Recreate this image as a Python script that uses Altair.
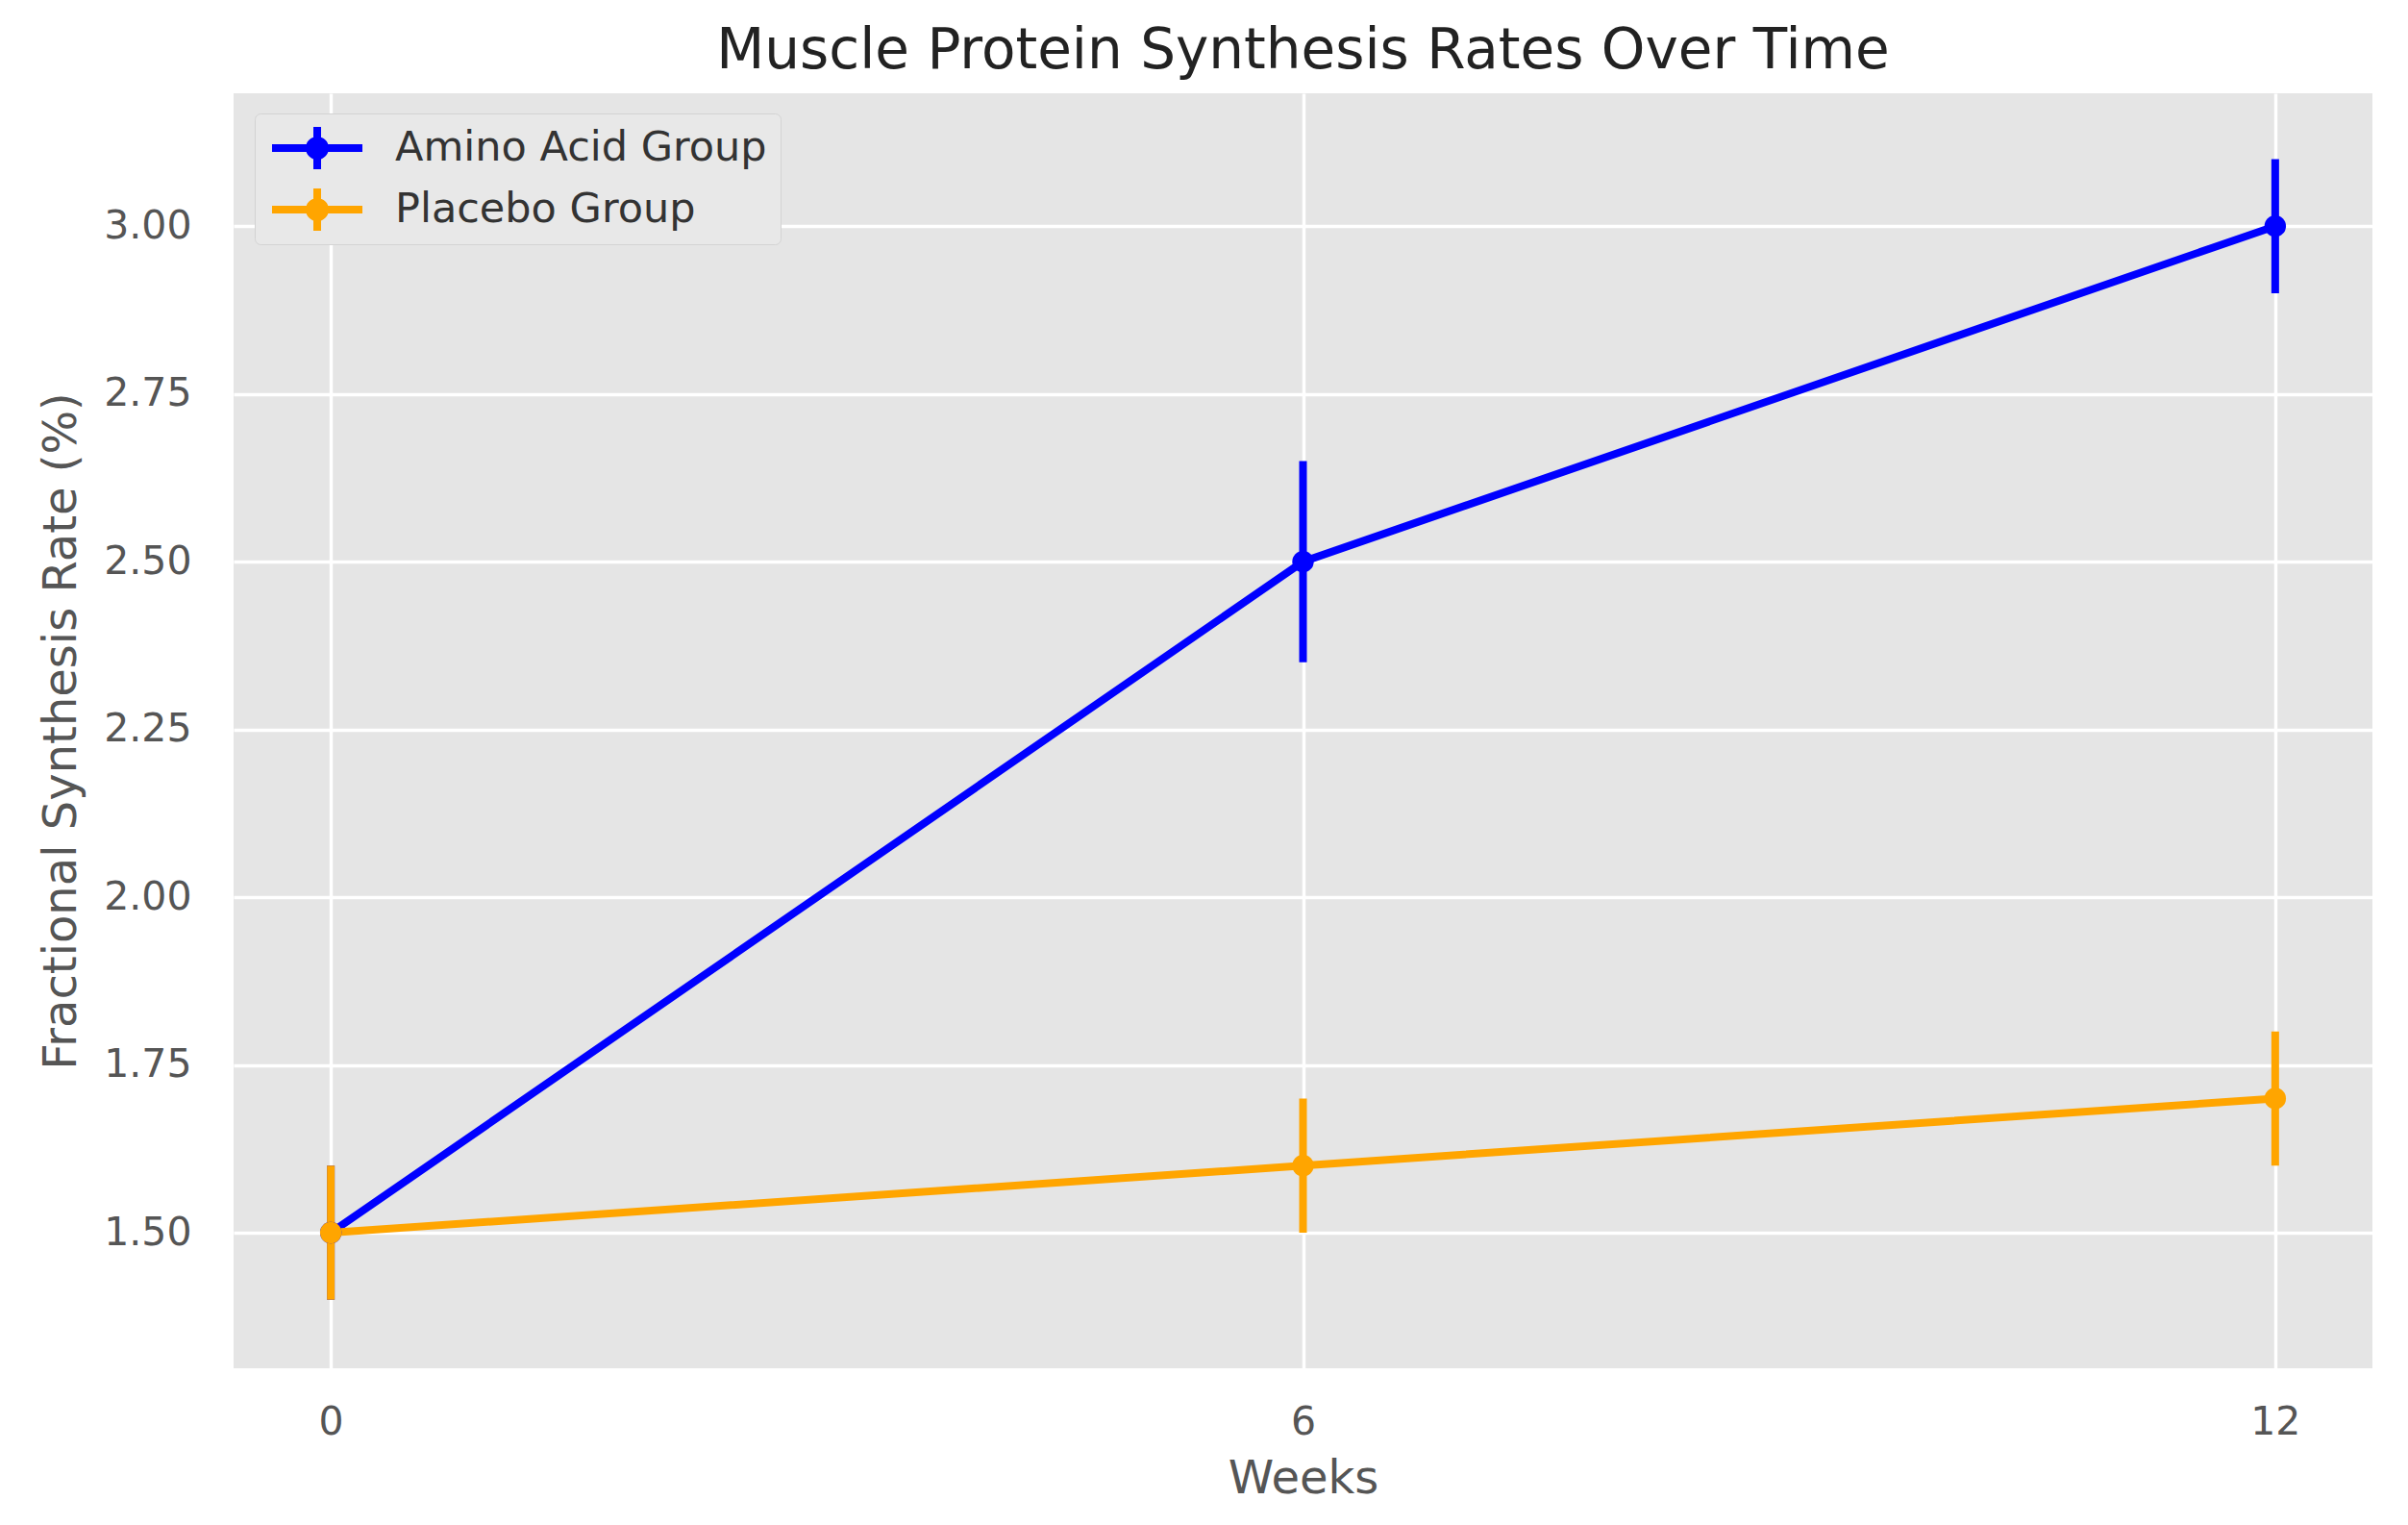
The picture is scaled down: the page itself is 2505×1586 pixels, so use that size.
import altair as alt
import pandas as pd

weeks = [0, 6, 12]
groups = ["Amino Acid Group", "Placebo Group"]
amino_mean = [1.5, 2.5, 3.0]
amino_err = [0.1, 0.15, 0.1]
placebo_mean = [1.5, 1.6, 1.7]
placebo_err = [0.1, 0.1, 0.1]
y_ticks = [1.5, 1.75, 2.0, 2.25, 2.5, 2.75, 3.0]
colors = ["#0000FF", "#FFA500"]

rows = []
for g, means, errs in zip(groups, [amino_mean, placebo_mean], [amino_err, placebo_err]):
    for w, m, e in zip(weeks, means, errs):
        rows.append({"week": w, "group": g, "mean": m, "lo": m - e, "hi": m + e})
df = pd.DataFrame(rows)

FONT = "DejaVu Sans"

x_scale = alt.Scale(domain=[-0.6, 12.6], nice=False, zero=False)
y_scale = alt.Scale(domain=[1.298, 3.198], nice=False, zero=False)
x_axis = alt.Axis(values=weeks, format="d", title="Weeks", labelPadding=36, titlePadding=15)
y_axis = alt.Axis(values=y_ticks, format=".2f", title="Fractional Synthesis Rate (%)",
                  labelPadding=44, titlePadding=19)

legend_path = ("M-1,0H1M0,-0.48V0.48"
               "M0.17,0A0.17,0.17 0 1 1 -0.17,0A0.17,0.17 0 1 1 0.17,0"
               "M0.06,0A0.06,0.06 0 1 1 -0.06,0A0.06,0.06 0 1 1 0.06,0")

legend = alt.Legend(title=None, orient="none", legendX=22, legendY=21,
                    symbolType=legend_path, symbolSize=8836, symbolStrokeWidth=8,
                    labelFontSize=43, labelColor="#333333", labelFont=FONT, labelLimit=2000,
                    padding=14, fillColor="#E8E8E8", strokeColor="#D3D3D3",
                    cornerRadius=6, clipHeight=44, rowPadding=20, labelOffset=30)

color = alt.Color("group:N", scale=alt.Scale(domain=groups, range=colors), legend=legend)

base = alt.Chart(df)

lines = base.mark_line(strokeWidth=8).encode(
    x=alt.X("week:Q", scale=x_scale, axis=x_axis),
    y=alt.Y("mean:Q", scale=y_scale, axis=y_axis),
    color=color,
)

rules = base.mark_rule(strokeWidth=8).encode(
    x=alt.X("week:Q", scale=x_scale, axis=x_axis),
    y=alt.Y("lo:Q", scale=y_scale, axis=y_axis),
    y2="hi:Q",
    color=color,
)

points = base.mark_circle(size=500, opacity=1).encode(
    x=alt.X("week:Q", scale=x_scale, axis=x_axis),
    y=alt.Y("mean:Q", scale=y_scale, axis=y_axis),
    color=color,
)

chart = alt.layer(lines, rules, points).properties(
    width=2225,
    height=1326,
    title=alt.TitleParams("Muscle Protein Synthesis Rates Over Time", fontSize=58, font=FONT,
                          fontWeight="normal", color="#222222", anchor="middle", offset=14,
                          frame="group"),
    padding={"left": 235, "top": 89, "right": 20, "bottom": 150},
    autosize=alt.AutoSizeParams(type="none"),
).configure_view(
    fill="#E5E5E5", stroke=None
).configure_axis(
    grid=True, gridColor="white", gridWidth=3.5, domain=False, ticks=False,
    labelFont=FONT, labelFontSize=41, labelColor="#555555",
    titleFont=FONT, titleFontSize=48, titleColor="#555555", titleFontWeight="normal",
)

chart.save("out.html", embed_options={"renderer": "svg", "actions": False})
